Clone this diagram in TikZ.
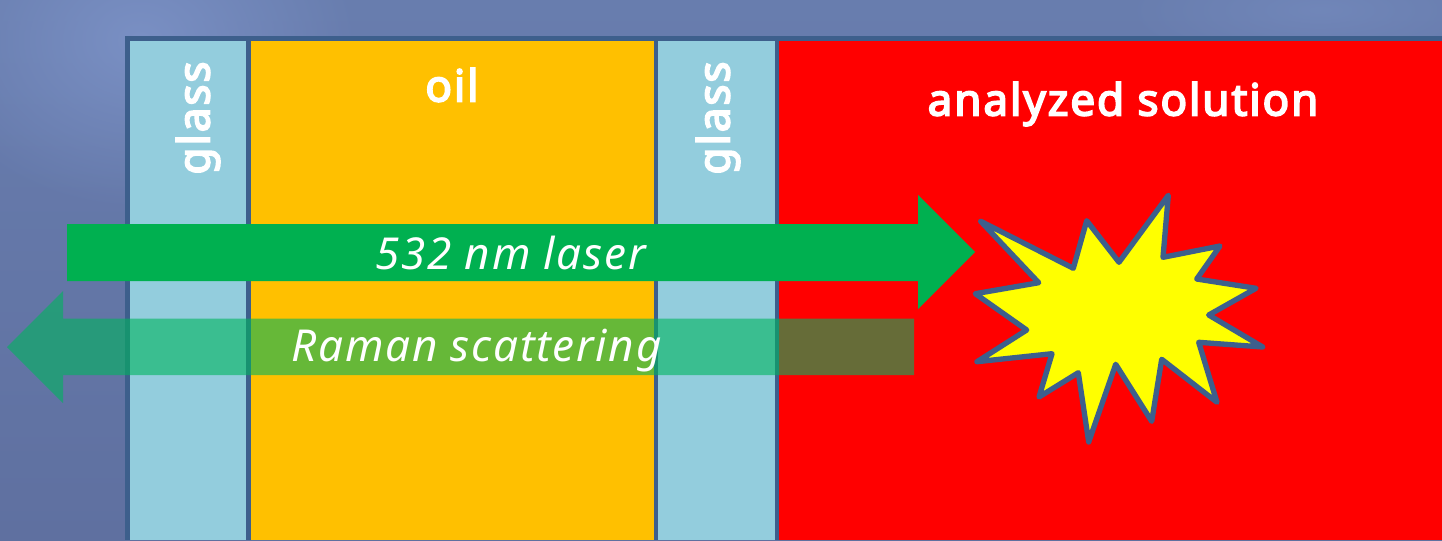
\documentclass[tikz,border=0pt]{standalone}
\usepackage{fontspec}
\setmainfont{Noto Sans}
\newfontfamily\labelfont[LetterSpace=4.4,FakeBold=4]{Noto Sans}
\newfontfamily\itfont[LetterSpace=4]{Noto Sans}
\usetikzlibrary{fadings}
\definecolor{frame}{HTML}{3D5F8C}
\definecolor{glassc}{HTML}{93CDDD}
\definecolor{oilc}{HTML}{FFC000}
\definecolor{laser}{HTML}{00B050}
\definecolor{raman}{HTML}{00B45E}
\definecolor{burst}{HTML}{FFFF00}
\definecolor{hot}{HTML}{FF0000}
\definecolor{bgA}{HTML}{7A90C4}
\definecolor{bgB}{HTML}{687DAE}
\definecolor{bgC}{HTML}{5F70A0}
\tikzset{
  label/.style={text=white,font=\labelfont\fontsize{33}{39}\selectfont,inner sep=0pt},
  itlabel/.style={text=white,font=\itfont\itshape\fontsize{33}{39}\selectfont,inner sep=0pt},
}
\tikzfading[name=softblob,inner color=transparent!0,outer color=transparent!100]
\begin{document}
\begin{tikzpicture}[x=0.75pt,y=-0.75pt]
\useasboundingbox (0,0) rectangle (1442,540);
% background
\shade[top color=bgB,bottom color=bgC] (0,0) rectangle (1442,540);
\begin{scope}
\clip (0,0) rectangle (1442,540);
\fill[bgA,path fading=softblob] (140,40) circle[x radius=220,y radius=170];
\fill[bgA,opacity=0.5,path fading=softblob] (1320,10) circle[x radius=200,y radius=60];
\end{scope}
% panels
\fill[frame] (125,36) rectangle (1442,540);
\fill[glassc] (130,41) rectangle (246,540);
\fill[oilc] (251,41) rectangle (654,540);
\fill[glassc] (658,41) rectangle (775,540);
\fill[hot] (779,41) rectangle (1442,540);
% burst
\draw[frame,fill=burst,line width=4pt,line join=round]
 (980.7,221.3) -- (1073.3,268.3) -- (1086.7,220.7) -- (1119,262.3) -- (1168.3,195.3)
 -- (1163,257.3) -- (1220,246) -- (1196.7,279) -- (1256,288.3) -- (1208.7,315)
 -- (1262.7,347) -- (1198.7,342.3) -- (1217,402.3) -- (1161.7,359.3) -- (1151.7,421.3)
 -- (1115.7,364.3) -- (1088.7,442) -- (1078.3,372.7) -- (1039,397) -- (1052,353.7)
 -- (977,361.7) -- (1026.7,330) -- (975.3,293.7) -- (1038.7,282.7) -- cycle;
% arrows
\fill[laser] (67,224) -- (918,224) -- (918,195) -- (975,252) -- (918,309) -- (918,281) -- (67,281) -- cycle;
\fill[raman,fill opacity=0.6] (914,318.5) -- (63,318.5) -- (63,291) -- (7,347) -- (63,403) -- (63,375) -- (914,375) -- cycle;
% text
\node[label,rotate=90] (glassA) at (198,118) {glass};
\node[label,rotate=90] (glassB) at (718,118) {glass};
\node[label] (oil) at (452,85) {oil};
\node[label] (sol) at (1123,104) {analyzed solution};
\node[itlabel] (laserT) at (510.5,253) {532 nm laser};
\node[itlabel] (ramanT) at (476.5,351) {Raman scattering};
\end{tikzpicture}
\end{document}
